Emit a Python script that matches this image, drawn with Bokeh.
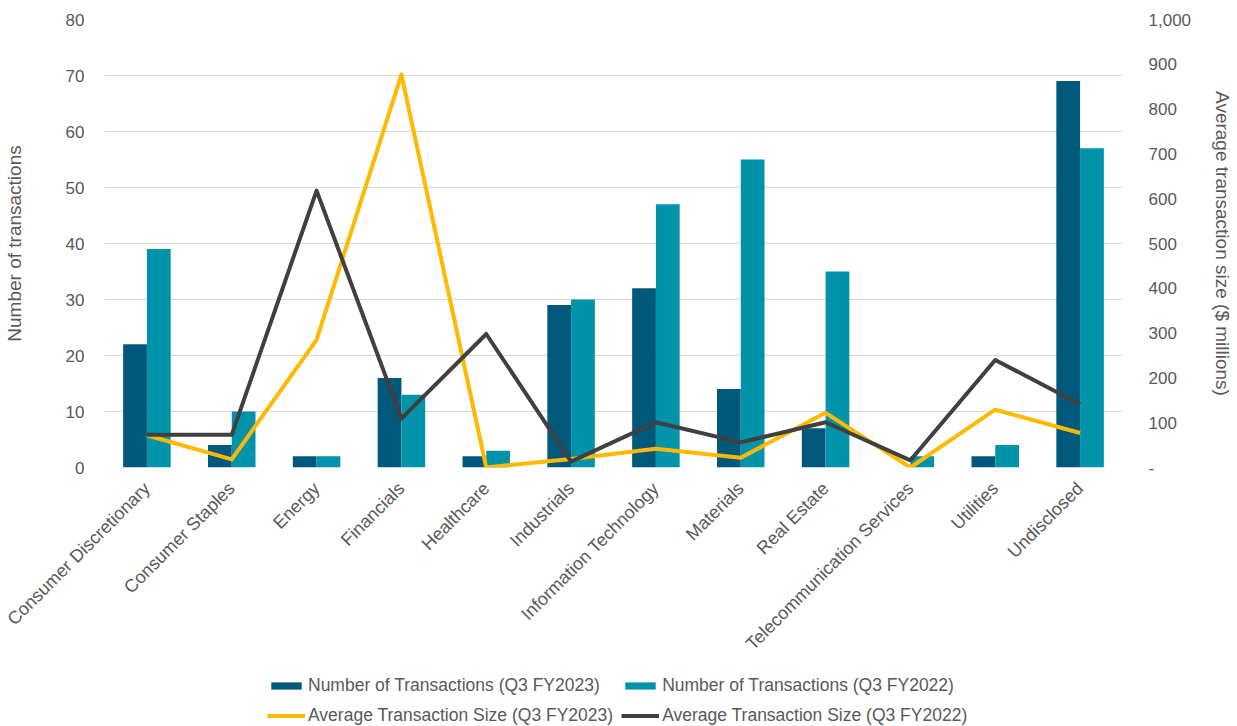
import math
from bokeh.plotting import figure
from bokeh.layouts import column
from bokeh.models import (ColumnDataSource, FactorRange, Range1d, LinearAxis,
                          FixedTicker, Legend, LegendItem)
from bokeh.transform import dodge
from bokeh.embed import file_html
from bokeh.resources import INLINE

categories = ["Consumer Discretionary", "Consumer Staples", "Energy", "Financials",
              "Healthcare", "Industrials", "Information Technology", "Materials",
              "Real Estate", "Telecommunication Services", "Utilities", "Undisclosed"]
tx_fy2023 = [22, 4, 2, 16, 2, 29, 32, 14, 7, 0, 2, 69]
tx_fy2022 = [39, 10, 2, 13, 3, 30, 47, 55, 35, 2, 4, 57]
avg_fy2023 = [72, 18, 285, 877, 0, 19, 42, 22, 122, 0, 129, 77]
avg_fy2022 = [73, 73, 618, 109, 298, 13, 101, 56, 101, 16, 240, 141]
left_ticks = [0, 10, 20, 30, 40, 50, 60, 70, 80]
right_ticks = [0, 100, 200, 300, 400, 500, 600, 700, 800, 900, 1000]
right_labels = ["-", "100", "200", "300", "400", "500", "600", "700", "800", "900", "1,000"]
series_names = ["Number of Transactions (Q3 FY2023)", "Number of Transactions (Q3 FY2022)",
                "Average Transaction Size (Q3 FY2023)", "Average Transaction Size (Q3 FY2022)"]

FONT = "Liberation Sans"
TXT = "#595959"
DARK = "#00587A"
LIGHT = "#0093A9"
YELLOW = "#FFB900"
GRAY = "#404040"

src = ColumnDataSource(dict(cat=categories, t23=tx_fy2023, t22=tx_fy2022,
                            a23=avg_fy2023, a22=avg_fy2022))

p = figure(width=1237, height=674,
           x_range=FactorRange(*categories, range_padding=0),
           y_range=Range1d(0, 80), output_backend="svg", toolbar_location=None,
           min_border_left=100, min_border_right=115, min_border_top=19,
           min_border_bottom=207, outline_line_color=None)
p.extra_y_ranges = {"size": Range1d(0, 1000)}

p.vbar(x=dodge("cat", -0.14, range=p.x_range), top="t23", width=0.28,
       source=src, fill_color=DARK, line_color=None)
p.vbar(x=dodge("cat", 0.14, range=p.x_range), top="t22", width=0.28,
       source=src, fill_color=LIGHT, line_color=None)
p.line(x="cat", y="a23", source=src, y_range_name="size",
       line_color=YELLOW, line_width=4, line_join="round")
p.line(x="cat", y="a22", source=src, y_range_name="size",
       line_color=GRAY, line_width=4, line_join="round")

# left axis
ya = p.yaxis[0]
ya.ticker = FixedTicker(ticks=left_ticks)
ya.axis_label = "Number of transactions"
ya.axis_line_color = None
ya.major_tick_line_color = None
ya.minor_tick_line_color = None
ya.major_label_standoff = 14
ya.axis_label_standoff = 38
ya.major_label_text_font = FONT
ya.major_label_text_font_size = "17px"
ya.major_label_text_color = TXT
ya.axis_label_text_font = FONT
ya.axis_label_text_font_size = "19px"
ya.axis_label_text_font_style = "normal"
ya.axis_label_text_color = TXT

# right axis
ra = LinearAxis(y_range_name="size", ticker=FixedTicker(ticks=right_ticks),
                axis_label="Average transaction size ($ millions)")
ra.major_label_overrides = {t: l for t, l in zip(right_ticks, right_labels)}
ra.axis_line_color = None
ra.major_tick_line_color = None
ra.minor_tick_line_color = None
ra.major_label_standoff = 20
ra.axis_label_standoff = 18
ra.major_label_text_font = FONT
ra.major_label_text_font_size = "17px"
ra.major_label_text_color = TXT
ra.axis_label_text_font = FONT
ra.axis_label_text_font_size = "19px"
ra.axis_label_text_font_style = "normal"
ra.axis_label_text_color = TXT
p.add_layout(ra, "right")

# x axis
xa = p.xaxis[0]
xa.axis_line_color = None
xa.major_tick_line_color = None
xa.minor_tick_line_color = None
xa.major_label_orientation = math.pi / 4
xa.major_label_standoff = 12
xa.major_label_text_font = FONT
xa.major_label_text_font_size = "18px"
xa.major_label_text_color = TXT

p.xgrid.grid_line_color = None
p.ygrid.grid_line_color = "#D9D9D9"
p.ygrid.grid_line_width = 1

# legend strip below the chart: same series as hidden renderers, only the legend shows
lg_src = ColumnDataSource(dict(cat=categories, t23=tx_fy2023, t22=tx_fy2022,
                               a23=avg_fy2023, a22=avg_fy2022))
lg = figure(width=1237, height=52, x_range=FactorRange(*categories),
            y_range=Range1d(0, 1000), output_backend="svg",
            toolbar_location=None, min_border=0, outline_line_color=None)
lg.axis.visible = False
lg.grid.visible = False
r1 = lg.vbar(x="cat", top="t23", width=0.28, source=lg_src,
             fill_color=DARK, line_color=None, visible=False)
r2 = lg.vbar(x="cat", top="t22", width=0.28, source=lg_src,
             fill_color=LIGHT, line_color=None, visible=False)
r3 = lg.line(x="cat", y="a23", source=lg_src, line_color=YELLOW, line_width=4,
             visible=False)
r4 = lg.line(x="cat", y="a22", source=lg_src, line_color=GRAY, line_width=4,
             visible=False)

legend = Legend(items=[LegendItem(label=n, renderers=[r])
                       for n, r in zip(series_names, [r1, r2, r3, r4])],
                orientation="horizontal", ncols=2, location=(163, 0),
                glyph_width=38, glyph_height=9, label_standoff=3, spacing=8,
                label_height=22, padding=0, margin=0, border_line_color=None,
                background_fill_alpha=0, label_text_font=FONT,
                label_text_font_size="17.5px", label_text_color=TXT,
                inactive_fill_alpha=0)
lg.add_layout(legend, "center")

layout = column(p, lg, spacing=0)
open("out.html", "w").write(file_html(layout, INLINE))
